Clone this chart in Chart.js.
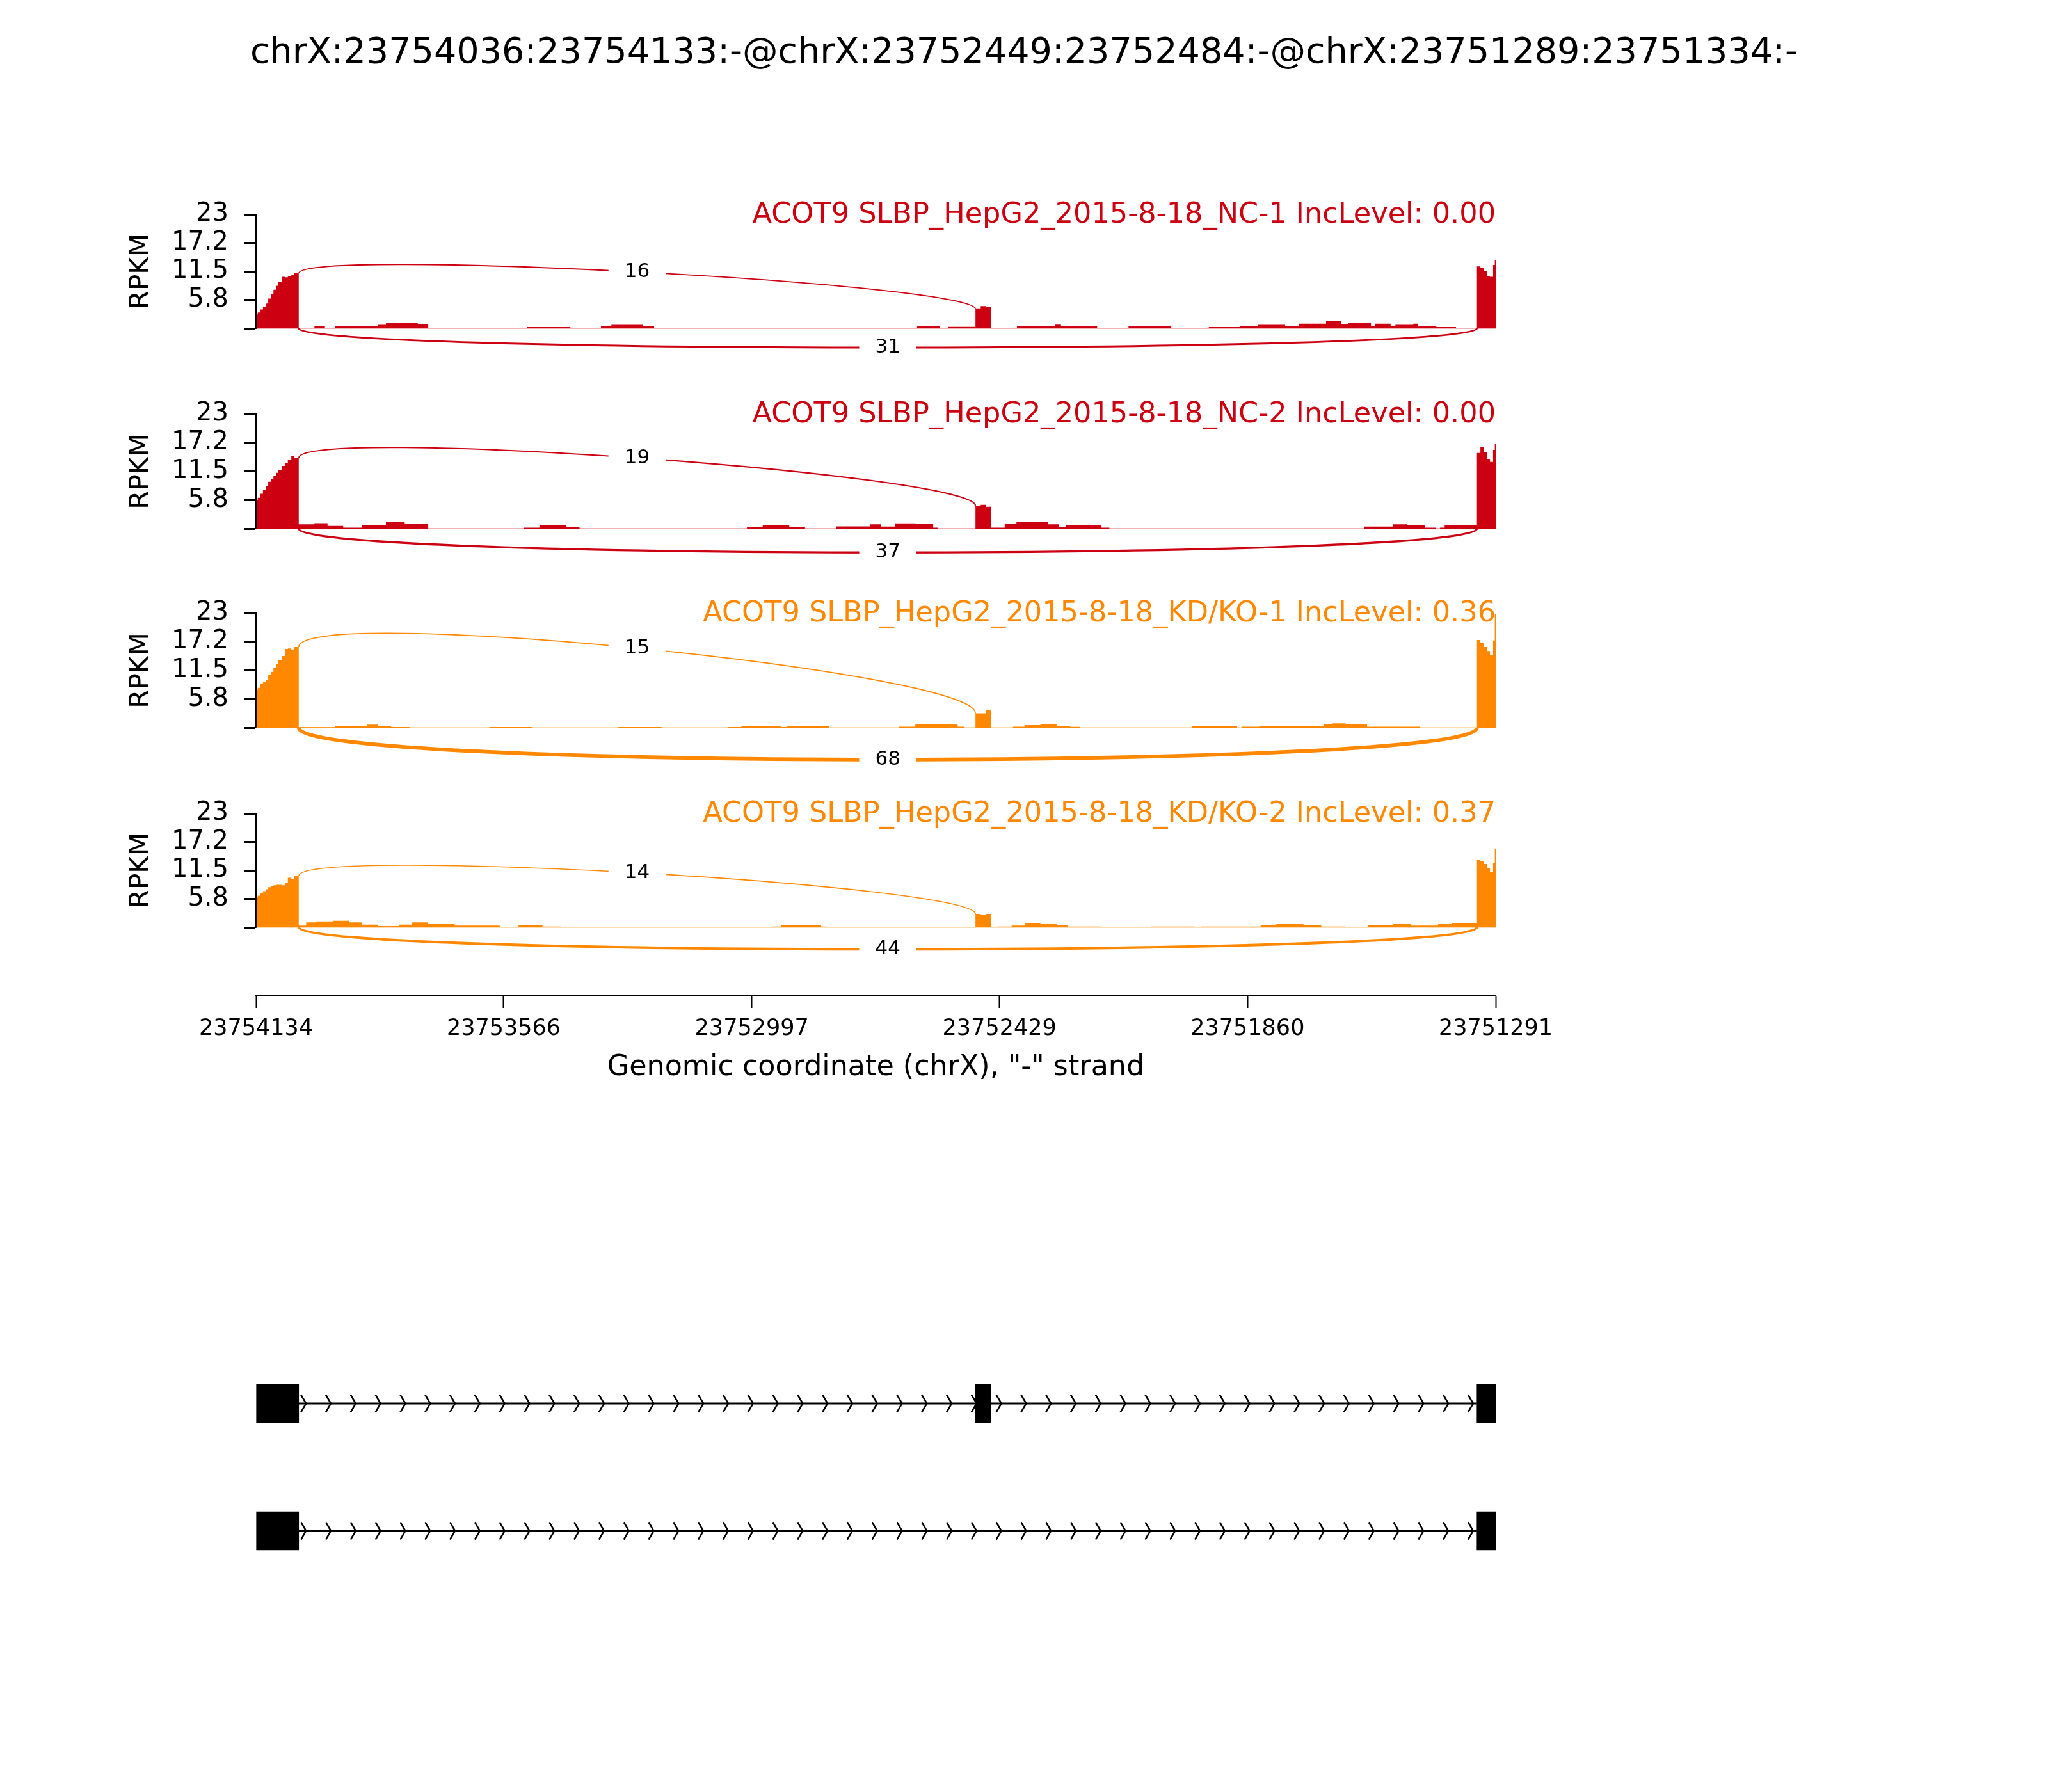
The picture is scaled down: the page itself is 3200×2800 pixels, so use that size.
<!DOCTYPE html>
<html>
<head>
<meta charset="utf-8">
<script src="https://cdn.jsdelivr.net/npm/chart.js@4.4.1/dist/chart.umd.min.js"></script>
<style>
  body { margin: 0; background: #fff; }
  #wrap { position: relative; width: 3200px; height: 2800px; background: #fff; }
  #wrap canvas { position: absolute; left: 0; }
</style>
</head>
<body>
<div id="wrap">
  <canvas id="nc1" width="3200" height="603" style="top:0px;width:3200px;height:603px"></canvas>
  <canvas id="nc2" width="3200" height="329" style="top:587px;width:3200px;height:329px"></canvas>
  <canvas id="kd1" width="3200" height="329" style="top:898px;width:3200px;height:329px"></canvas>
  <canvas id="kd2" width="3200" height="328" style="top:1211px;width:3200px;height:328px"></canvas>
  <canvas id="xaxis" width="3200" height="201" style="top:1500px;width:3200px;height:201px"></canvas>
  <canvas id="genes" width="3200" height="601" style="top:1990px;width:3200px;height:601px"></canvas>
</div>
<script>
Chart.defaults.font.family = '"DejaVu Sans", sans-serif';
Chart.defaults.color = '#000';

// ---- data ----
var figTitle = 'chrX:23754036:23754133:-@chrX:23752449:23752484:-@chrX:23751289:23751334:-';
var sampleNames = [
  'ACOT9 SLBP_HepG2_2015-8-18_NC-1 IncLevel: 0.00',
  'ACOT9 SLBP_HepG2_2015-8-18_NC-2 IncLevel: 0.00',
  'ACOT9 SLBP_HepG2_2015-8-18_KD/KO-1 IncLevel: 0.36',
  'ACOT9 SLBP_HepG2_2015-8-18_KD/KO-2 IncLevel: 0.37'
];
var sampleColors = ['#CC0011', '#CC0011', '#FF8800', '#FF8800'];

var xMin = 23751291, xMax = 23754134;
var xTicks = [23754134, 23753566, 23752997, 23752429, 23751860, 23751291];
var yTicks = [0, 5.75, 11.5, 17.25, 23];
var yTickLabels = ['', '5.8', '11.5', '17.2', '23'];

var exon1 = [23754036, 23754133];
var exon2 = [23752449, 23752484];
var exon3 = [23751289, 23751334];
var transcripts = [[exon1, exon2, exon3], [exon1, exon3]];

// coverage steps inside exons (genomic coordinate boundaries)
var exon1Steps = [23754133, 23754130, 23754124, 23754118, 23754112, 23754106, 23754100, 23754094,
                  23754088, 23754083, 23754075, 23754068, 23754061, 23754053, 23754046, 23754036];
var exon2Steps = [23752484, 23752472, 23752460, 23752449];
var exon3Steps = [23751334, 23751326, 23751318, 23751311, 23751304, 23751297, 23751293, 23751289];

var nc1Exon1 = [2.8, 3.2, 3.8, 4.3, 5.0, 6.0, 6.9, 7.8, 8.6, 9.4, 10.4, 10.3, 10.6, 10.8, 11.1];
var nc2Exon1 = [5.8, 6.2, 7.0, 7.8, 8.6, 9.4, 10.0, 10.6, 11.2, 11.8, 12.6, 13.2, 13.8, 14.6, 14.2];
var kd1Exon1 = [7.6, 8.0, 8.8, 9.2, 9.6, 10.6, 11.2, 12.0, 12.8, 13.6, 14.4, 15.8, 15.9, 15.7, 16.2];
var kd2Exon1 = [6.1, 6.4, 6.9, 7.3, 7.7, 8.1, 8.3, 8.5, 8.6, 8.6, 8.5, 9.0, 10.0, 9.8, 10.4];

var nc1Exon2 = [3.9, 4.5, 4.3];
var nc2Exon2 = [4.6, 4.8, 4.4];
var kd1Exon2 = [2.9, 2.9, 3.6];
var kd2Exon2 = [2.7, 2.5, 2.7];

var nc1Exon3 = [12.5, 12.2, 11.5, 10.6, 10.4, 12.8, 13.8];
var nc2Exon3 = [15.2, 16.4, 15.4, 14.0, 13.4, 15.8, 17.0];
var kd1Exon3 = [17.6, 17.0, 16.2, 15.4, 14.6, 17.5, 22.8];
var kd2Exon3 = [13.7, 13.4, 12.8, 12.0, 11.2, 13.0, 15.8];

// intronic read coverage: [from, to, RPKM]
var nc1Intron = [
  [23754000, 23753976, 0.4], [23753952, 23753855, 0.5], [23753855, 23753836, 0.7],
  [23753836, 23753763, 1.15], [23753763, 23753739, 0.9], [23753513, 23753413, 0.26],
  [23753343, 23753319, 0.45], [23753319, 23753246, 0.72], [23753246, 23753221, 0.45],
  [23752618, 23752566, 0.4], [23752546, 23752484, 0.3], [23752389, 23752301, 0.45],
  [23752301, 23752288, 0.75], [23752288, 23752205, 0.45], [23752133, 23752035, 0.5],
  [23751949, 23751877, 0.26], [23751877, 23751836, 0.5], [23751836, 23751774, 0.7],
  [23751774, 23751742, 0.5], [23751742, 23751680, 0.95], [23751680, 23751645, 1.45],
  [23751645, 23751629, 0.9], [23751629, 23751577, 1.1], [23751577, 23751567, 0.5],
  [23751567, 23751532, 0.95], [23751532, 23751521, 0.5], [23751521, 23751480, 0.7],
  [23751480, 23751470, 0.95], [23751470, 23751427, 0.5], [23751427, 23751382, 0.26]
];
var nc2Intron = [
  [23754036, 23754000, 0.86], [23754000, 23753970, 1.1], [23753970, 23753934, 0.55],
  [23753934, 23753891, 0.2], [23753891, 23753836, 0.66], [23753836, 23753793, 1.3],
  [23753793, 23753739, 0.9], [23753520, 23753484, 0.2], [23753484, 23753422, 0.66],
  [23753422, 23753392, 0.3], [23753008, 23752972, 0.3], [23752972, 23752911, 0.7],
  [23752911, 23752875, 0.3], [23752803, 23752725, 0.45], [23752725, 23752700, 0.86],
  [23752700, 23752669, 0.43], [23752669, 23752622, 1.07], [23752622, 23752581, 0.9],
  [23752581, 23752571, 0.2], [23752449, 23752417, 0.2], [23752417, 23752390, 1.0],
  [23752390, 23752318, 1.4], [23752318, 23752293, 0.86], [23752293, 23752277, 0.3],
  [23752277, 23752195, 0.66], [23752195, 23752177, 0.2], [23751593, 23751526, 0.43],
  [23751526, 23751495, 0.86], [23751495, 23751454, 0.66], [23751454, 23751428, 0.2],
  [23751419, 23751408, 0.2], [23751408, 23751334, 0.7]
];
var kd1Intron = [
  [23754036, 23753952, 0.1], [23753952, 23753927, 0.4], [23753927, 23753879, 0.3],
  [23753879, 23753855, 0.6], [23753855, 23753824, 0.3], [23753824, 23753782, 0.13],
  [23753599, 23753501, 0.13], [23753303, 23753204, 0.13], [23753051, 23753021, 0.13],
  [23753021, 23752929, 0.35], [23752929, 23752917, 0.13], [23752917, 23752820, 0.35],
  [23752659, 23752622, 0.2], [23752622, 23752561, 0.77], [23752561, 23752525, 0.65],
  [23752525, 23752509, 0.2], [23752398, 23752370, 0.2], [23752370, 23752335, 0.5],
  [23752335, 23752298, 0.65], [23752298, 23752267, 0.4], [23752267, 23752245, 0.17],
  [23751987, 23751884, 0.35], [23751874, 23751833, 0.2], [23751833, 23751686, 0.4],
  [23751686, 23751665, 0.73], [23751665, 23751635, 0.86], [23751635, 23751586, 0.65],
  [23751586, 23751464, 0.2]
];
var kd2Intron = [
  [23754036, 23754019, 0.34], [23754019, 23753995, 1.0], [23753995, 23753958, 1.2],
  [23753958, 23753921, 1.33], [23753921, 23753891, 1.0], [23753891, 23753855, 0.56],
  [23753855, 23753806, 0.26], [23753806, 23753776, 0.56], [23753776, 23753739, 1.0],
  [23753739, 23753678, 0.65], [23753678, 23753575, 0.34], [23753532, 23753477, 0.43],
  [23753477, 23753435, 0.17], [23752948, 23752930, 0.17], [23752930, 23752838, 0.43],
  [23752838, 23752826, 0.17], [23752432, 23752401, 0.17], [23752401, 23752370, 0.34],
  [23752370, 23752335, 0.9], [23752335, 23752298, 0.77], [23752298, 23752273, 0.47],
  [23752273, 23752195, 0.17], [23752082, 23751981, 0.17], [23751966, 23751830, 0.17],
  [23751830, 23751794, 0.47], [23751794, 23751732, 0.65], [23751732, 23751691, 0.43],
  [23751691, 23751635, 0.17], [23751583, 23751526, 0.47], [23751526, 23751486, 0.65],
  [23751486, 23751423, 0.34], [23751423, 23751392, 0.65], [23751392, 23751334, 0.9]
];

// splice junctions (upper: exon1-exon2, lower: exon1-exon3) and read counts
var junctionFrom = [23754036, 23754036];
var junctionTo = [23752484, 23751334];
var nc1Junctions = [16, 31];
var nc2Junctions = [19, 37];
var kd1Junctions = [15, 68];
var kd2Junctions = [14, 44];

// ---- helpers ----
function buildCoverage(e1, e2, e3, introns) {
  var segs = [];
  function addSteps(bounds, vals) {
    vals.forEach(function (v, i) { segs.push([bounds[i], bounds[i + 1], v]); });
  }
  addSteps(exon1Steps, e1);
  addSteps(exon2Steps, e2);
  addSteps(exon3Steps, e3);
  introns.forEach(function (s) { segs.push(s); });
  segs.sort(function (a, b) { return b[0] - a[0]; });
  var pts = [];
  segs.forEach(function (s) {
    pts.push({x: s[0], y: 0}, {x: s[0], y: s[2]}, {x: s[1], y: s[2]}, {x: s[1], y: 0});
  });
  return pts;
}

var arcPlugin = {
  id: 'sashimi',
  beforeDatasetsDraw: function (chart, args, o) {
    var ctx = chart.ctx, y = chart.scales.y;
    ctx.save();
    ctx.strokeStyle = o.color;
    ctx.globalAlpha = 0.3;
    ctx.lineWidth = 2;
    ctx.beginPath();
    ctx.moveTo(chart.chartArea.left, y.getPixelForValue(0));
    ctx.lineTo(chart.chartArea.right, y.getPixelForValue(0));
    ctx.stroke();
    ctx.restore();
  },
  afterDatasetsDraw: function (chart, args, o) {
    var ctx = chart.ctx, x = chart.scales.x, y = chart.scales.y;
    var h = 0.375 * o.maxCov;
    ctx.save();
    junctionFrom.forEach(function (from, i) {
      var to = junctionTo[i];
      var pts;
      if (i % 2 === 0) {
        pts = [[from, o.leftDens], [from, o.leftDens + h], [to, o.rightDens + h], [to, o.rightDens]];
      } else {
        pts = [[from, 0], [from, -h], [to, -h], [to, 0]];
      }
      var p = pts.map(function (q) { return [x.getPixelForValue(q[0]), y.getPixelForValue(q[1])]; });
      ctx.strokeStyle = o.color;
      ctx.lineWidth = 0.6 + o.counts[i] * 0.075;
      ctx.beginPath();
      ctx.moveTo(p[0][0], p[0][1]);
      ctx.bezierCurveTo(p[1][0], p[1][1], p[2][0], p[2][1], p[3][0], p[3][1]);
      ctx.stroke();
      var mx = (p[0][0] + 3 * p[1][0] + 3 * p[2][0] + p[3][0]) / 8;
      var my = (p[0][1] + 3 * p[1][1] + 3 * p[2][1] + p[3][1]) / 8;
      ctx.font = '31px "DejaVu Sans"';
      var label = String(o.counts[i]);
      var w = ctx.measureText(label).width;
      ctx.fillStyle = '#fff';
      ctx.fillRect(mx - w / 2 - 25, my - 22, w + 50, 44);
      ctx.fillStyle = '#000';
      ctx.textAlign = 'center';
      ctx.textBaseline = 'middle';
      ctx.fillText(label, mx, my);
    });
    // sample name, top right
    ctx.font = '44.6px "DejaVu Sans"';
    ctx.fillStyle = o.color;
    ctx.textAlign = 'right';
    ctx.textBaseline = 'alphabetic';
    ctx.fillText(o.name, chart.chartArea.right, y.getPixelForValue(23) + 13);
    if (o.figTitle) {
      ctx.font = '55.6px "DejaVu Sans"';
      ctx.fillStyle = '#000';
      ctx.textAlign = 'center';
      ctx.fillText(o.figTitle, chart.width / 2, 98);
    }
    ctx.restore();
  }
};

function samplePanel(id, idx, e1, e2, e3, introns, counts, padTop) {
  var data = buildCoverage(e1, e2, e3, introns);
  var allVals = e1.concat(e2, e3, introns.map(function (s) { return s[2]; }));
  return new Chart(document.getElementById(id), {
    type: 'line',
    data: {
      datasets: [{
        data: data,
        borderWidth: 0,
        pointRadius: 0,
        backgroundColor: sampleColors[idx],
        fill: 'origin',
        tension: 0
      }]
    },
    options: {
      responsive: false,
      animation: false,
      devicePixelRatio: 1,
      layout: {padding: {left: 0, right: 863, top: padTop, bottom: 90}},
      plugins: {
        legend: {display: false},
        tooltip: {enabled: false},
        sashimi: {
          color: sampleColors[idx],
          name: sampleNames[idx],
          counts: counts,
          maxCov: Math.max.apply(null, allVals),
          leftDens: e1[e1.length - 1],
          rightDens: e2[0],
          figTitle: idx === 0 ? figTitle : null
        }
      },
      scales: {
        x: {type: 'linear', display: false, reverse: true, min: xMin, max: xMax},
        y: {
          min: 0, max: 23,
          afterBuildTicks: function (s) { s.ticks = yTicks.map(function (v) { return {value: v}; }); },
          afterFit: function (s) { s.width = 400; },
          ticks: {
            callback: function (v, i) { return yTickLabels[i]; },
            font: {size: 40}, color: '#000', padding: 25, autoSkip: false
          },
          grid: {drawOnChartArea: false, drawTicks: true, tickLength: 18, tickWidth: 3, tickColor: '#000'},
          border: {display: true, color: '#000', width: 3},
          title: {display: true, text: 'RPKM', font: {size: 42}, color: '#000', padding: {top: 196, bottom: 0}}
        }
      }
    },
    plugins: [arcPlugin]
  });
}

samplePanel('nc1', 0, nc1Exon1, nc1Exon2, nc1Exon3, nc1Intron, nc1Junctions, 335);
samplePanel('nc2', 1, nc2Exon1, nc2Exon2, nc2Exon3, nc2Intron, nc2Junctions, 60);
samplePanel('kd1', 2, kd1Exon1, kd1Exon2, kd1Exon3, kd1Intron, kd1Junctions, 60);
samplePanel('kd2', 3, kd2Exon1, kd2Exon2, kd2Exon3, kd2Intron, kd2Junctions, 60);

// genomic coordinate axis
new Chart(document.getElementById('xaxis'), {
  type: 'line',
  data: {datasets: []},
  options: {
    responsive: false,
    animation: false,
    devicePixelRatio: 1,
    layout: {padding: {left: 400, right: 863, top: 54, bottom: 0}},
    plugins: {legend: {display: false}, tooltip: {enabled: false}},
    scales: {
      x: {
        type: 'linear', reverse: true, min: xMin, max: xMax,
        afterBuildTicks: function (s) { s.ticks = xTicks.map(function (v) { return {value: v}; }); },
        afterFit: function (s) { s.height = 146; },
        ticks: {
          callback: function (v) { return String(v); },
          font: {size: 35}, color: '#000', padding: 12, maxRotation: 0, autoSkip: false
        },
        grid: {drawOnChartArea: false, drawTicks: true, tickLength: 20, tickWidth: 2, tickColor: '#000'},
        border: {display: true, color: '#000', width: 3},
        title: {
          display: true, text: 'Genomic coordinate (chrX), "-" strand',
          font: {size: 44.4}, color: '#000', padding: {top: 0, bottom: 6}
        }
      },
      y: {display: false}
    }
  }
});

// gene model
var exonBars = [];
transcripts.forEach(function (exons, row) {
  exons.forEach(function (e) { exonBars.push({y: row + 1, x: [e[0], e[1]]}); });
});

var intronPlugin = {
  id: 'introns',
  beforeDatasetsDraw: function (chart) {
    var ctx = chart.ctx, x = chart.scales.x, y = chart.scales.y;
    ctx.save();
    ctx.strokeStyle = '#000';
    transcripts.forEach(function (exons, row) {
      var cy = y.getPixelForValue(row + 1);
      var x0 = x.getPixelForValue(exons[0][0]);
      var x1 = x.getPixelForValue(exons[exons.length - 1][1]);
      ctx.lineWidth = 3;
      ctx.beginPath();
      ctx.moveTo(x0, cy);
      ctx.lineTo(x1, cy);
      ctx.stroke();
      ctx.lineWidth = 2.5;
      for (var tip = x0 + 11.5; tip < x1 - 4; tip += 38.8) {
        ctx.beginPath();
        ctx.moveTo(tip - 8, cy - 13.5);
        ctx.lineTo(tip, cy);
        ctx.lineTo(tip - 8, cy + 13.5);
        ctx.stroke();
      }
    });
    ctx.restore();
  }
};

new Chart(document.getElementById('genes'), {
  type: 'bar',
  data: {datasets: [{data: exonBars, backgroundColor: '#000', borderWidth: 0, barThickness: 60}]},
  options: {
    indexAxis: 'y',
    responsive: false,
    animation: false,
    devicePixelRatio: 1,
    layout: {padding: {left: 400, right: 863, top: 4, bottom: 0}},
    plugins: {legend: {display: false}, tooltip: {enabled: false}},
    scales: {
      x: {type: 'linear', display: false, reverse: true, min: xMin, max: xMax},
      y: {type: 'linear', display: false, reverse: true, offset: false, min: 0, max: 3}
    }
  },
  plugins: [intronPlugin]
});
</script>
</body>
</html>
